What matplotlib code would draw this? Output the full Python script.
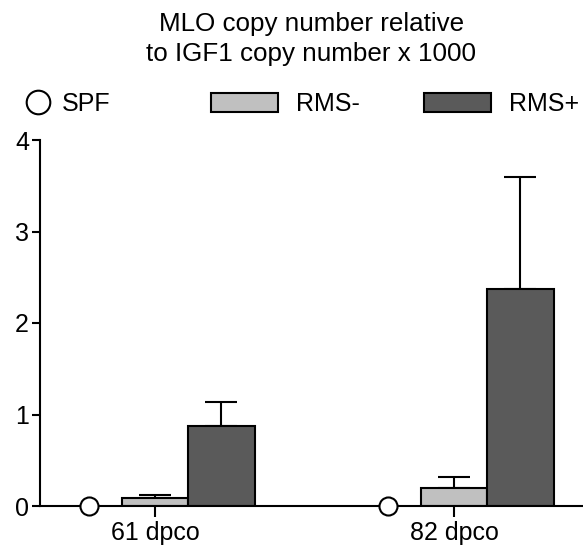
import numpy as np
import matplotlib
matplotlib.use("Agg")
import matplotlib.pyplot as plt
from matplotlib.patches import Patch
from matplotlib.lines import Line2D

plt.rcParams['font.family'] = ['Liberation Sans', 'DejaVu Sans']

# ====== data ======
categories = ["61 dpco", "82 dpco"]
spf_mean = [0.0, 0.0]
rms_neg_mean = [0.09, 0.20]
rms_neg_err = [0.025, 0.12]
rms_pos_mean = [0.87, 2.375]
rms_pos_err = [0.27, 1.22]
yticks = [0, 1, 2, 3, 4]

light = "#c0c0c0"
dark = "#5a5a5a"

# ====== figure ======
W, H = 583, 547
fig = plt.figure(figsize=(W / 100, H / 100), dpi=100)
ax = fig.add_axes([40 / W, (H - 506) / H, (W - 40) / W, (506 - 140) / H])

x = np.arange(len(categories))
bw = 0.222

# bars
ax.bar(x, rms_neg_mean, width=bw, color=light, edgecolor="black", linewidth=1.5, zorder=2)
ax.bar(x + bw, rms_pos_mean, width=bw, color=dark, edgecolor="black", linewidth=1.5, zorder=2)

# upper error bars only
ax.errorbar(x, rms_neg_mean, yerr=[np.zeros(2), rms_neg_err], fmt="none",
            ecolor="black", elinewidth=1.5, capsize=11.5, capthick=1.5, zorder=1)
ax.errorbar(x + bw, rms_pos_mean, yerr=[np.zeros(2), rms_pos_err], fmt="none",
            ecolor="black", elinewidth=1.5, capsize=11.5, capthick=1.5, zorder=1)

# SPF points (open circles on the baseline)
ax.plot(x - bw, spf_mean, linestyle="none", marker="o", markersize=13,
        markerfacecolor="white", markeredgecolor="black", markeredgewidth=1.5,
        clip_on=False, zorder=5)

# axes
ax.set_xlim(-0.3846, 1.4314)
ax.set_ylim(0, 4)
ax.set_yticks(yticks)
ax.set_yticklabels([str(t) for t in yticks])
ax.set_xticks(x)
ax.set_xticklabels(categories)
ax.spines["top"].set_visible(False)
ax.spines["right"].set_visible(False)
for s in ("left", "bottom"):
    ax.spines[s].set_linewidth(1.5)
ax.tick_params(axis="y", direction="out", length=6, width=1.5, labelsize=18, pad=2)
ax.tick_params(axis="x", direction="out", length=8, width=1.5, labelsize=18, pad=3)

# title
fig.text(311.5 / W, 1 - 39 / H, "MLO copy number relative\nto IGF1 copy number x 1000",
         ha="center", va="center", fontsize=18.7, linespacing=1.35)

# legend, one entry each so the spacing can follow the original
ly = 1 - 104 / H
h_spf = Line2D([], [], linestyle="none", marker="o", markersize=17,
               markerfacecolor="white", markeredgecolor="black", markeredgewidth=1.5)
fig.legend([h_spf], ["SPF"], loc="center left", bbox_to_anchor=(20.5 / W, ly),
           frameon=False, fontsize=18, handlelength=1.4, handletextpad=0.26,
           borderpad=0, borderaxespad=0)
h_neg = Patch(facecolor=light, edgecolor="black", linewidth=1.5)
fig.legend([h_neg], ["RMS-"], loc="center left", bbox_to_anchor=(211 / W, ly),
           frameon=False, fontsize=18, handlelength=2.68, handleheight=0.76,
           handletextpad=0.72, borderpad=0, borderaxespad=0)
h_pos = Patch(facecolor=dark, edgecolor="black", linewidth=1.5)
fig.legend([h_pos], ["RMS+"], loc="center left", bbox_to_anchor=(424 / W, ly),
           frameon=False, fontsize=18, handlelength=2.68, handleheight=0.76,
           handletextpad=0.72, borderpad=0, borderaxespad=0)

fig.savefig("out.png", dpi=100)
